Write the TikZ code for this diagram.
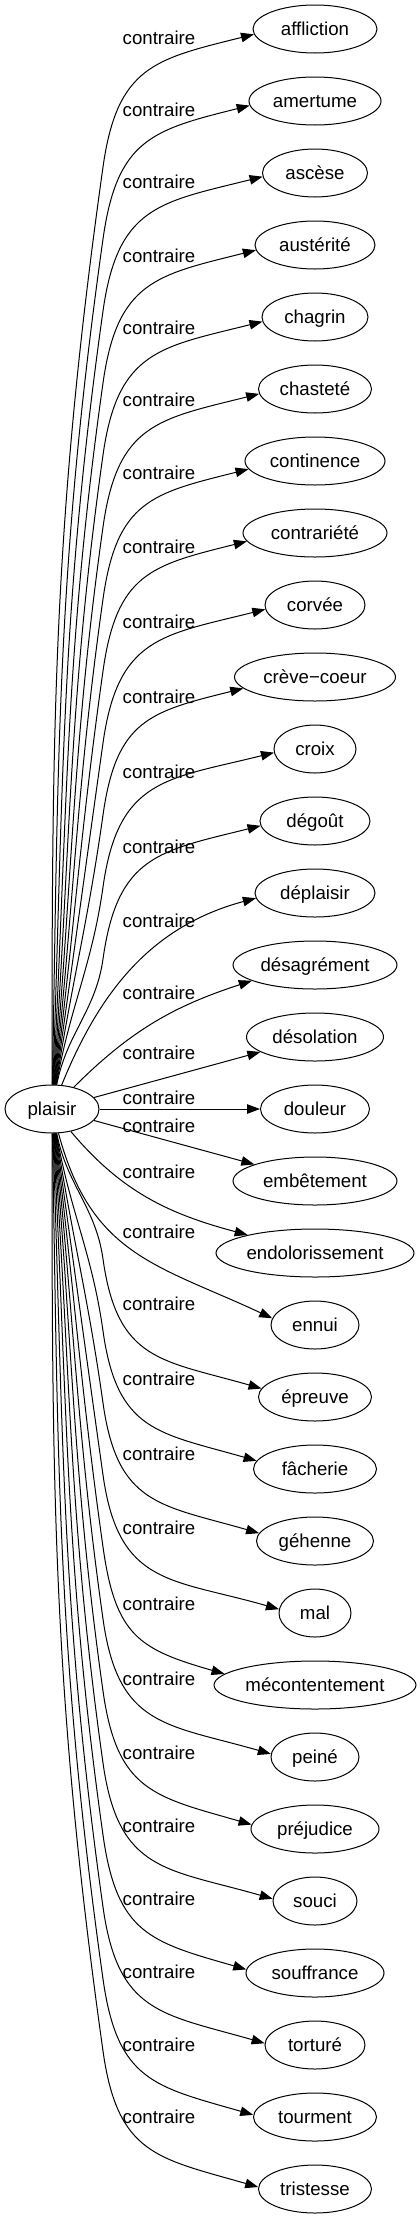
\documentclass[tikz,border=0pt]{standalone}
\usepackage{fontspec}
\setmainfont{Liberation Sans}
\usetikzlibrary{arrows.meta,shapes.geometric}

\begin{document}
\begin{tikzpicture}[x=1pt, y=1pt, line width=1pt,
  font=\fontsize{18.67}{22}\selectfont,
  word/.style={ellipse, draw, inner sep=0pt, text height=13pt, text depth=0pt, minimum height=48pt},
  rel/.style={-{Triangle[length=13pt, width=9.5pt]}},
  lbl/.style={anchor=base, inner sep=0pt}]

\useasboundingbox (0,0) rectangle (420,-2219);

% plaisir
\node[word, minimum width=94pt] (plaisir) at (52,-1109) {plaisir};

% contraires, one row every 72
\node[word, minimum width=124pt] (affliction) at (315,-29) {affliction};
\node[word, minimum width=132pt] (amertume) at (315,-101) {amertume};
\node[word, minimum width=105pt] (ascese) at (315,-173) {ascèse};
\node[word, minimum width=120pt] (austerite) at (315,-245) {austérité};
\node[word, minimum width=106pt] (chagrin) at (315,-317) {chagrin};
\node[word, minimum width=113pt] (chastete) at (315,-389) {chasteté};
\node[word, minimum width=140pt] (continence) at (315,-461) {continence};
\node[word, minimum width=144pt] (contrariete) at (315,-533) {contrariété};
\node[word, minimum width=100pt] (corvee) at (315,-605) {corvée};
\node[word, minimum width=161pt] (creve) at (315,-677) {crève−coeur};
\node[word, minimum width=82pt] (croix) at (315,-749) {croix};
\node[word, minimum width=110pt] (degout) at (315,-821) {dégoût};
\node[word, minimum width=120pt] (deplaisir) at (315,-893) {déplaisir};
\node[word, minimum width=164pt] (desagrement) at (315,-965) {désagrément};
\node[word, minimum width=137pt] (desolation) at (315,-1037) {désolation};
\node[word, minimum width=109pt] (douleur) at (315,-1109) {douleur};
\node[word, minimum width=164pt] (embetement) at (315,-1181) {embêtement};
\node[word, minimum width=198pt] (endolorissement) at (315,-1253) {endolorissement};
\node[word, minimum width=88pt] (ennui) at (315,-1325) {ennui};
\node[word, minimum width=113pt] (epreuve) at (315,-1397) {épreuve};
\node[word, minimum width=123pt] (facherie) at (315,-1469) {fâcherie};
\node[word, minimum width=117pt] (gehenne) at (315,-1541) {géhenne};
\node[word, minimum width=72pt] (mal) at (315,-1613) {mal};
\node[word, minimum width=202pt] (mecontentement) at (315,-1685) {mécontentement};
\node[word, minimum width=88pt] (peine) at (315,-1757) {peiné};
\node[word, minimum width=128pt] (prejudice) at (315,-1829) {préjudice};
\node[word, minimum width=84pt] (souci) at (315,-1901) {souci};
\node[word, minimum width=138pt] (souffrance) at (315,-1973) {souffrance};
\node[word, minimum width=100pt] (torture) at (315,-2045) {torturé};
\node[word, minimum width=123pt] (tourment) at (315,-2117) {tourment};
\node[word, minimum width=113pt] (tristesse) at (315,-2189) {tristesse};

% edges going up
\draw[rel] (plaisir) to[out=90,in=262] (103,-167) to[out=82,in=194,looseness=1.3] (affliction.185);
\draw[rel] (plaisir) to[out=89,in=262] (103,-239) to[out=82,in=194,looseness=1.3] (amertume.184);
\draw[rel] (plaisir) to[out=88,in=262] (103,-311) to[out=82,in=194,looseness=1.3] (ascese.184);
\draw[rel] (plaisir) to[out=87,in=262] (103,-383) to[out=82,in=194,looseness=1.3] (austerite.185);
\draw[rel] (plaisir) to[out=86,in=262] (103,-455) to[out=82,in=194,looseness=1.3] (chagrin.185);
\draw[rel] (plaisir) to[out=85,in=262] (103,-527) to[out=82,in=194,looseness=1.3] (chastete.185);
\draw[rel] (plaisir) to[out=84,in=262] (103,-599) to[out=82,in=194,looseness=1.3] (continence.187);
\draw[rel] (plaisir) to[out=83,in=262] (103,-671) to[out=82,in=194,looseness=1.3] (contrariete.187);
\draw[rel] (plaisir) to[out=82,in=262] (103,-743) to[out=82,in=194,looseness=1.3] (corvee.185);
\draw[rel] (plaisir) to[out=81,in=262] (103,-815) to[out=82,in=194,looseness=1.3] (creve.189);
\draw[rel] (plaisir) to[out=80,in=262] (103,-887) to[out=82,in=194,looseness=1.3] (croix.185);
\draw[rel] (plaisir) to[out=79,in=262] (103,-959) to[out=82,in=194,looseness=1.3] (degout.185);
\draw[rel] (plaisir) to[out=68,in=195] (deplaisir.185);
\draw[rel] (plaisir) to[out=45,in=198] (desagrement.194);
\draw[rel] (plaisir) -- (desolation);

% edges going across and down
\draw[rel] (plaisir) -- (douleur);
\draw[rel] (plaisir) -- (embetement);
\draw[rel] (plaisir) to[out=-50,in=165] (endolorissement.165);
\draw[rel] (plaisir) to[out=-75,in=155,looseness=1.15] (ennui.171);
\draw[rel] (plaisir) to[out=-79,in=98] (103,-1259) to[out=-82,in=164,looseness=1.3] (epreuve.171);
\draw[rel] (plaisir) to[out=-80,in=98] (103,-1331) to[out=-82,in=164,looseness=1.3] (facherie.172);
\draw[rel] (plaisir) to[out=-81,in=98] (103,-1403) to[out=-82,in=164,looseness=1.3] (gehenne.172);
\draw[rel] (plaisir) to[out=-82,in=98] (103,-1475) to[out=-82,in=164,looseness=1.3] (mal.174);
\draw[rel] (plaisir) to[out=-83,in=98] (103,-1547) to[out=-82,in=164,looseness=1.3] (mecontentement.173);
\draw[rel] (plaisir) to[out=-84,in=98] (103,-1619) to[out=-82,in=164,looseness=1.3] (peine.176);
\draw[rel] (plaisir) to[out=-85,in=98] (103,-1691) to[out=-82,in=164,looseness=1.3] (prejudice.176);
\draw[rel] (plaisir) to[out=-86,in=98] (103,-1763) to[out=-82,in=164,looseness=1.3] (souci.177);
\draw[rel] (plaisir) to[out=-87,in=98] (103,-1835) to[out=-82,in=164,looseness=1.3] (souffrance.177);
\draw[rel] (plaisir) to[out=-88,in=98] (103,-1907) to[out=-82,in=164,looseness=1.3] (torture.178);
\draw[rel] (plaisir) to[out=-89,in=98] (103,-1979) to[out=-82,in=164,looseness=1.3] (tourment.178);
\draw[rel] (plaisir) to[out=-90,in=98] (103,-2051) to[out=-82,in=164,looseness=1.3] (tristesse.178);

% edge labels
\node[lbl] (c-affliction) at (159,-44) {contraire};
\node[lbl] (c-amertume) at (159,-116) {contraire};
\node[lbl] (c-ascese) at (159,-188) {contraire};
\node[lbl] (c-austerite) at (159,-262) {contraire};
\node[lbl] (c-chagrin) at (159,-334) {contraire};
\node[lbl] (c-chastete) at (159,-406) {contraire};
\node[lbl] (c-continence) at (159,-479) {contraire};
\node[lbl] (c-contrariete) at (159,-553) {contraire};
\node[lbl] (c-corvee) at (159,-628) {contraire};
\node[lbl] (c-creve) at (159,-703) {contraire};
\node[lbl] (c-croix) at (159,-778) {contraire};
\node[lbl] (c-degout) at (159,-853) {contraire};
\node[lbl] (c-deplaisir) at (159,-927) {contraire};
\node[lbl] (c-desagrement) at (159,-999) {contraire};
\node[lbl] (c-desolation) at (159,-1059) {contraire};
\node[lbl] (c-douleur) at (159,-1104) {contraire};
\node[lbl] (c-embetement) at (159,-1132) {contraire};
\node[lbl] (c-endolorissement) at (159,-1178) {contraire};
\node[lbl] (c-ennui) at (159,-1238) {contraire};
\node[lbl] (c-epreuve) at (159,-1310) {contraire};
\node[lbl] (c-facherie) at (159,-1385) {contraire};
\node[lbl] (c-gehenne) at (159,-1460) {contraire};
\node[lbl] (c-mal) at (159,-1534) {contraire};
\node[lbl] (c-mecontentement) at (159,-1610) {contraire};
\node[lbl] (c-peine) at (159,-1685) {contraire};
\node[lbl] (c-prejudice) at (159,-1759) {contraire};
\node[lbl] (c-souci) at (159,-1832) {contraire};
\node[lbl] (c-souffrance) at (159,-1905) {contraire};
\node[lbl] (c-torture) at (159,-1978) {contraire};
\node[lbl] (c-tourment) at (159,-2051) {contraire};
\node[lbl] (c-tristesse) at (159,-2123) {contraire};

\end{tikzpicture}
\end{document}
